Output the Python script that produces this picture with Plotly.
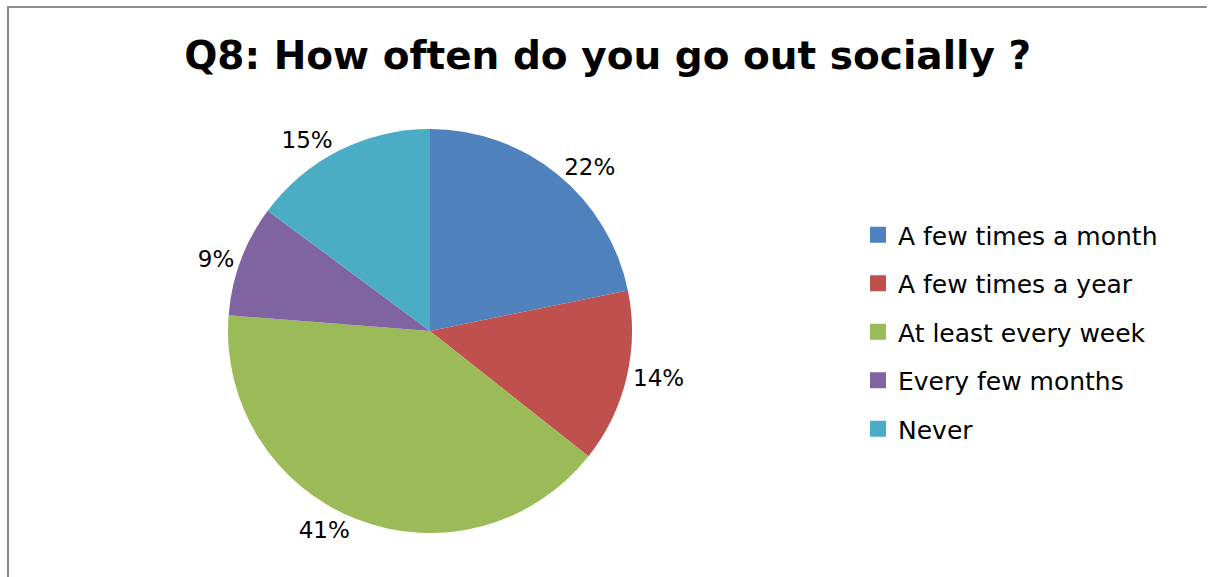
import plotly.graph_objects as go

categories = ["A few times a month", "A few times a year", "At least every week",
              "Every few months", "Never"]
values = [22, 14, 41, 9, 15]
colors = ["#4F81BD", "#C0504D", "#9BBB59", "#8064A2", "#4BACC6"]
title_text = "Q8: How often do you go out socially ?"

W, H = 1208, 577

fig = go.Figure()

# pie centre ~ (430, 331) px
cx, cy, d = 430, 331, 404
fig.add_trace(go.Pie(
    labels=categories,
    values=values,
    marker=dict(colors=colors, line=dict(width=0)),
    sort=False,
    direction="clockwise",
    rotation=0,
    textposition="outside",
    texttemplate="%{percent:.0%}",
    textfont=dict(family="DejaVu Sans", size=23, color="#000000"),
    showlegend=False,
    domain=dict(x=[(cx - d / 2) / W, (cx + d / 2) / W],
                y=[(H - cy - d / 2) / H, (H - cy + d / 2) / H]),
    hoverinfo="label+percent",
))

# legend entries
for cat, col in zip(categories, colors):
    fig.add_trace(go.Scatter(
        x=[None], y=[None], mode="markers", name=cat, legendgroup=cat,
        marker=dict(symbol="square", size=18, color=col),
        hoverinfo="skip",
    ))

bx, by = 8 / W, 1 - 7 / H
fig.update_layout(
    width=W, height=H,
    margin=dict(l=0, r=0, t=0, b=0),
    paper_bgcolor="white", plot_bgcolor="white",
    title=dict(text="<b>" + title_text + "</b>", x=0.503, xanchor="center",
               y=1 - 55 / H, yanchor="middle",
               font=dict(family="DejaVu Sans", size=39, color="#000000")),
    xaxis=dict(visible=False), yaxis=dict(visible=False),
    legend=dict(x=858 / W, xanchor="left", y=1 - 212 / H, yanchor="top",
                font=dict(family="DejaVu Sans", size=25, color="#000000"),
                tracegroupgap=13, itemclick=False, bgcolor="rgba(0,0,0,0)"),
    shapes=[dict(type="path", xref="paper", yref="paper",
                 path=f"M {bx},0 L {bx},{by} L 0.999,{by}",
                 line=dict(color="#8C8C8C", width=2))],
)

fig.write_html("out.html")
